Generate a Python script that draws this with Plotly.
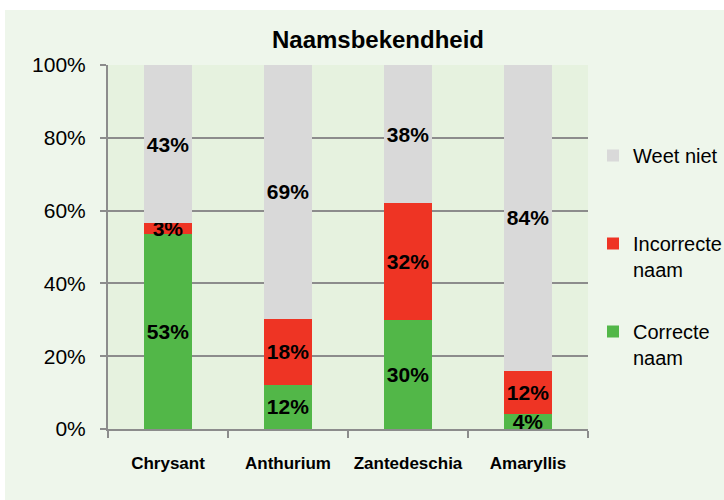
import plotly.graph_objects as go

categories = ["Chrysant", "Anthurium", "Zantedeschia", "Amaryllis"]
correct = [53, 12, 30, 4]
incorrect = [3, 18, 32, 12]
dont_know = [43, 69, 38, 84]
y_ticks = [0, 20, 40, 60, 80, 100]

# (legend label, values, colour, legend rank)
series = [
    ("Correcte<br>naam", correct, "#52b748", 3),
    ("Incorrecte<br>naam", incorrect, "#ee3424", 2),
    ("Weet niet<br> ", dont_know, "#d9d9d9", 1),
]

fig = go.Figure()
for i, (name, vals, col, rank) in enumerate(series):
    fig.add_trace(go.Bar(
        x=categories, y=vals, name=name,
        legendgroup=f"g{i}", legendrank=rank,
        marker=dict(color=col, line=dict(width=0)),
        text=[f"{v}%" for v in vals],
        textposition="inside", insidetextanchor="middle", textangle=0,
        textfont=dict(size=21, color="black", weight="bold"),
        constraintext="none", hoverinfo="skip",
    ))

fig.update_layout(
    barmode="stack", barnorm="percent", bargap=0.6,
    width=724, height=500,
    margin=dict(l=108, r=136, t=65, b=71, autoexpand=False),
    paper_bgcolor="#eef6eb", plot_bgcolor="#e6f2df",
    font=dict(family="Liberation Sans, Arial", color="black"),
    uniformtext=dict(minsize=21, mode="show"),
    title=dict(text="<b>Naamsbekendheid</b>", x=378 / 724, xanchor="center",
               y=1 - 40 / 500, yanchor="middle", font=dict(size=24)),
    showlegend=True,
    legend=dict(x=(593 - 108) / 480, xanchor="left", y=(429 - 136) / 364, yanchor="top",
                traceorder="grouped", tracegroupgap=33, valign="top",
                font=dict(size=20), bgcolor="rgba(0,0,0,0)"),
    shapes=[
        dict(type="rect", xref="paper", yref="paper", x0=-0.3, x1=1.4,
             y0=(429 - 10) / 364, y1=1.3, fillcolor="white", line=dict(width=0)),
        dict(type="rect", xref="paper", yref="paper", x0=-0.3, x1=(5 - 108) / 480,
             y0=-0.3, y1=1.3, fillcolor="white", line=dict(width=0)),
    ],
)

fig.update_xaxes(
    showline=True, linecolor="#8c8c8c", linewidth=2,
    ticks="outside", tickson="boundaries", ticklen=7, tickcolor="#8c8c8c", tickwidth=2,
    tickfont=dict(size=17, weight="bold"), ticklabelstandoff=18, tickangle=0,
    showgrid=False, automargin=False,
)
fig.update_yaxes(
    range=[0, 100], tickvals=y_ticks, ticktext=[f"{v}%" for v in y_ticks],
    showline=True, linecolor="#8c8c8c", linewidth=2,
    ticks="outside", ticklen=6, tickcolor="#8c8c8c", tickwidth=2,
    showgrid=True, gridcolor="#8c8c8c", gridwidth=2,
    tickfont=dict(size=21), ticklabelstandoff=10, zeroline=False, automargin=False,
)

fig.write_html("out.html", config={"displayModeBar": False},
               post_script="document.body.style.margin='0';")
